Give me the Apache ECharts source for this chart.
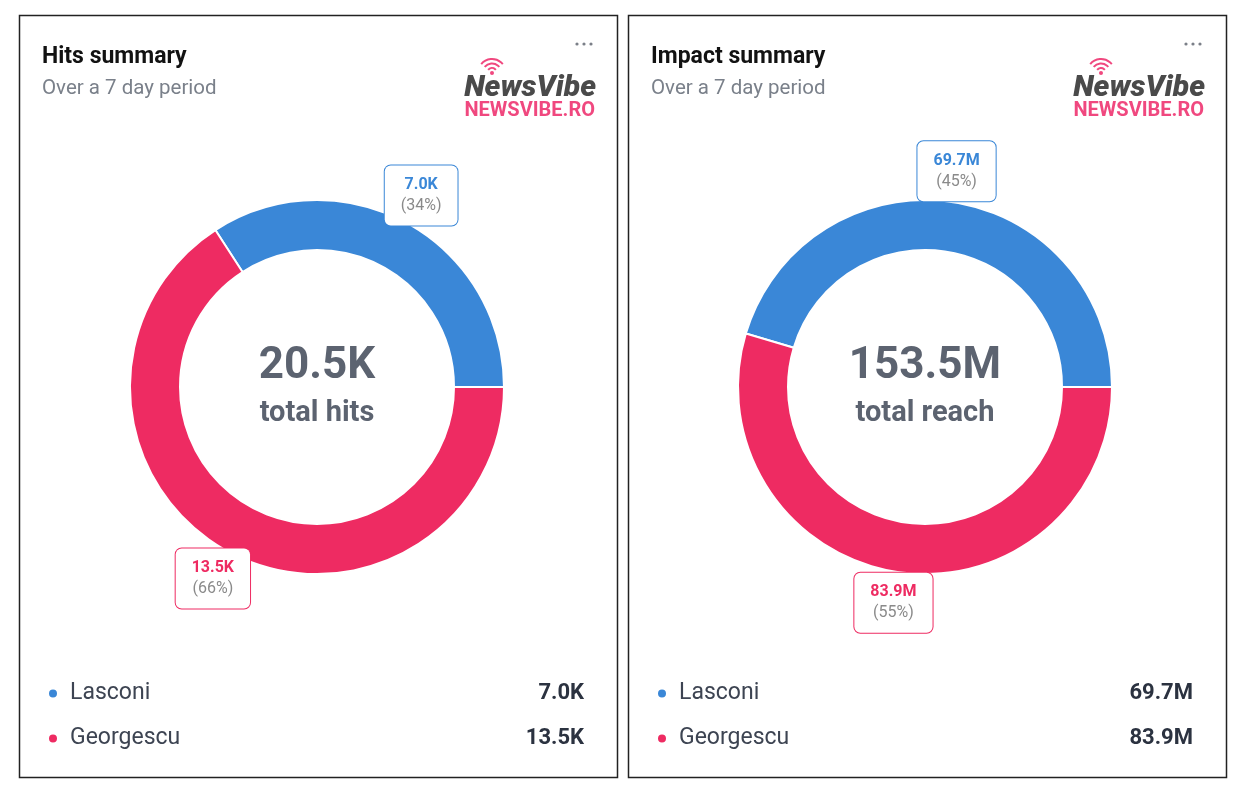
<!DOCTYPE html>
<html><head><meta charset="utf-8">
<script src="https://cdn.jsdelivr.net/npm/echarts@6/dist/echarts.min.js"></script>
<style>html,body{margin:0;padding:0;background:#fff}#c{width:1248px;height:798px}</style>
</head><body><div id="c"></div>
<script>
const categories = ['Lasconi', 'Georgescu'];
const hitsValues = [7.0, 13.5];      // thousands
const reachValues = [69.7, 83.9];    // millions
const hitsTotal = '20.5K';
const reachTotal = '153.5M';
const titles = ['Hits summary', 'Impact summary'];
const subtitles = ['Over a 7 day period', 'Over a 7 day period'];
const centerLabels = ['total hits', 'total reach'];
const units = ['K', 'M'];

const colors = ['#3a87d7', '#ee2b62'];
const FONT = 'Roboto, "Noto Sans", sans-serif';
const panels = [
  { x: 19, cx: 317, values: hitsValues, total: hitsTotal },
  { x: 628, cx: 925, values: reachValues, total: reachTotal }
];
const CY = 387;

function fmt(v, u) { return v.toFixed(1) + u; }

const series = [];
const graphics = [];
const legends = [];

panels.forEach((p, i) => {
  const data = categories.map((n, k) => ({ name: n, value: p.values[k], itemStyle: { color: colors[k] } }));
  series.push({
    type: 'pie', center: [p.cx, CY], radius: [137, 187],
    startAngle: 0, clockwise: false, silent: true,
    label: { show: false }, labelLine: { show: false },
    itemStyle: { borderColor: '#fff', borderWidth: 2 },
    data: data
  });
});
panels.forEach((p, i) => {
  const data = categories.map((n, k) => ({
    name: n, value: p.values[k],
    itemStyle: { color: 'rgba(0,0,0,0)' },
    label: {
      borderColor: colors[k],
      rich: { v: { color: colors[k], fontWeight: 'bold', fontSize: 16, lineHeight: 21, fontFamily: FONT, align: 'center' },
              p: { color: '#8a8a8a', fontSize: 16, lineHeight: 21, fontFamily: FONT, align: 'center' } }
    }
  }));
  series.push({
    type: 'pie', center: [p.cx, CY], radius: [0, 430],
    startAngle: 0, clockwise: false, silent: true, z: 5,
    emphasis: { disabled: true },
    labelLine: { show: false },
    label: {
      show: true, position: 'inside', backgroundColor: '#fff', borderWidth: 1,
      borderRadius: 6, padding: [9, 16, 9, 16], fontSize: 16, fontFamily: FONT,
      formatter: (prm) => '{v|' + fmt(prm.value, units[i]) + '}\n{p|(' + Math.round(prm.percent) + '%)}'
    },
    data: data
  });

  legends.push({
    orient: 'vertical', left: p.x + 23, top: 677, itemGap: 22,
    icon: 'circle', itemWidth: 10, itemHeight: 10, selectedMode: false,
    data: categories.map((n, k) => ({ name: n, itemStyle: { color: colors[k] } })),
    formatter: (name) => {
      const k = categories.indexOf(name);
      return '{n|' + name + '}{v|' + fmt(p.values[k], units[i]) + '}';
    },
    textStyle: {
      rich: {
        n: { fontSize: 23, color: '#3d4452', fontFamily: FONT, width: 436, padding: [0, 0, 0, 7], lineHeight: 25 },
        v: { fontSize: 22, color: '#2b3240', fontWeight: 'bold', fontFamily: FONT, width: 78, align: 'right', lineHeight: 25 }
      }
    }
  });

  // panel border
  graphics.push({ type: 'rect', shape: { x: p.x + 0.5, y: 15.5, width: 598, height: 762 },
    style: { fill: 'none', stroke: '#222', lineWidth: 1.5 }, z: -1 });
  // title & subtitle
  graphics.push({ type: 'text', x: p.x + 23, y: 57, style: { text: titles[i], fill: '#121212', font: 'bold 23px ' + FONT, verticalAlign: 'middle' } });
  graphics.push({ type: 'text', x: p.x + 23, y: 89, style: { text: subtitles[i], fill: '#7a808a', font: '20.5px ' + FONT, verticalAlign: 'middle' } });
  // center text
  graphics.push({ type: 'text', x: p.cx, y: 367, style: { text: p.total, fill: '#5c6370', font: 'bold 44px ' + FONT, align: 'center', verticalAlign: 'middle' } });
  graphics.push({ type: 'text', x: p.cx, y: 414, style: { text: centerLabels[i], fill: '#5c6370', font: 'bold 29px ' + FONT, align: 'center', verticalAlign: 'middle' } });
  // menu dots
  [0, 1, 2].forEach(d => graphics.push({ type: 'circle', shape: { cx: p.x + 558 + d * 7, cy: 44, r: 1.6 }, style: { fill: '#7b7f88' } }));
  // logo
  graphics.push({ type: 'text', x: p.x + 577, y: 88, style: { text: 'NewsVibe', fill: '#4a4a4a', font: 'italic 900 30px ' + FONT, align: 'right', verticalAlign: 'middle' } });
  graphics.push({ type: 'text', x: p.x + 576, y: 111, style: { text: 'NEWSVIBE.RO', fill: '#f0487f', font: 'bold 20px ' + FONT, align: 'right', verticalAlign: 'middle' } });
  const wx = p.x + 473, wy = 73;
  graphics.push({ type: 'circle', shape: { cx: wx, cy: wy, r: 2 }, style: { fill: '#f0487f' } });
  [5, 9.5, 14].forEach(r => graphics.push({ type: 'arc', shape: { cx: wx, cy: wy, r: r, startAngle: Math.PI * 1.22, endAngle: Math.PI * 1.78 }, style: { stroke: '#f0487f', lineWidth: 2, fill: 'none' } }));
});

const chart = echarts.init(document.getElementById('c'), null, { renderer: 'canvas' });
chart.setOption({
  animation: false,
  backgroundColor: '#fff',
  legend: legends,
  series: series,
  graphic: graphics
});
</script></body></html>
